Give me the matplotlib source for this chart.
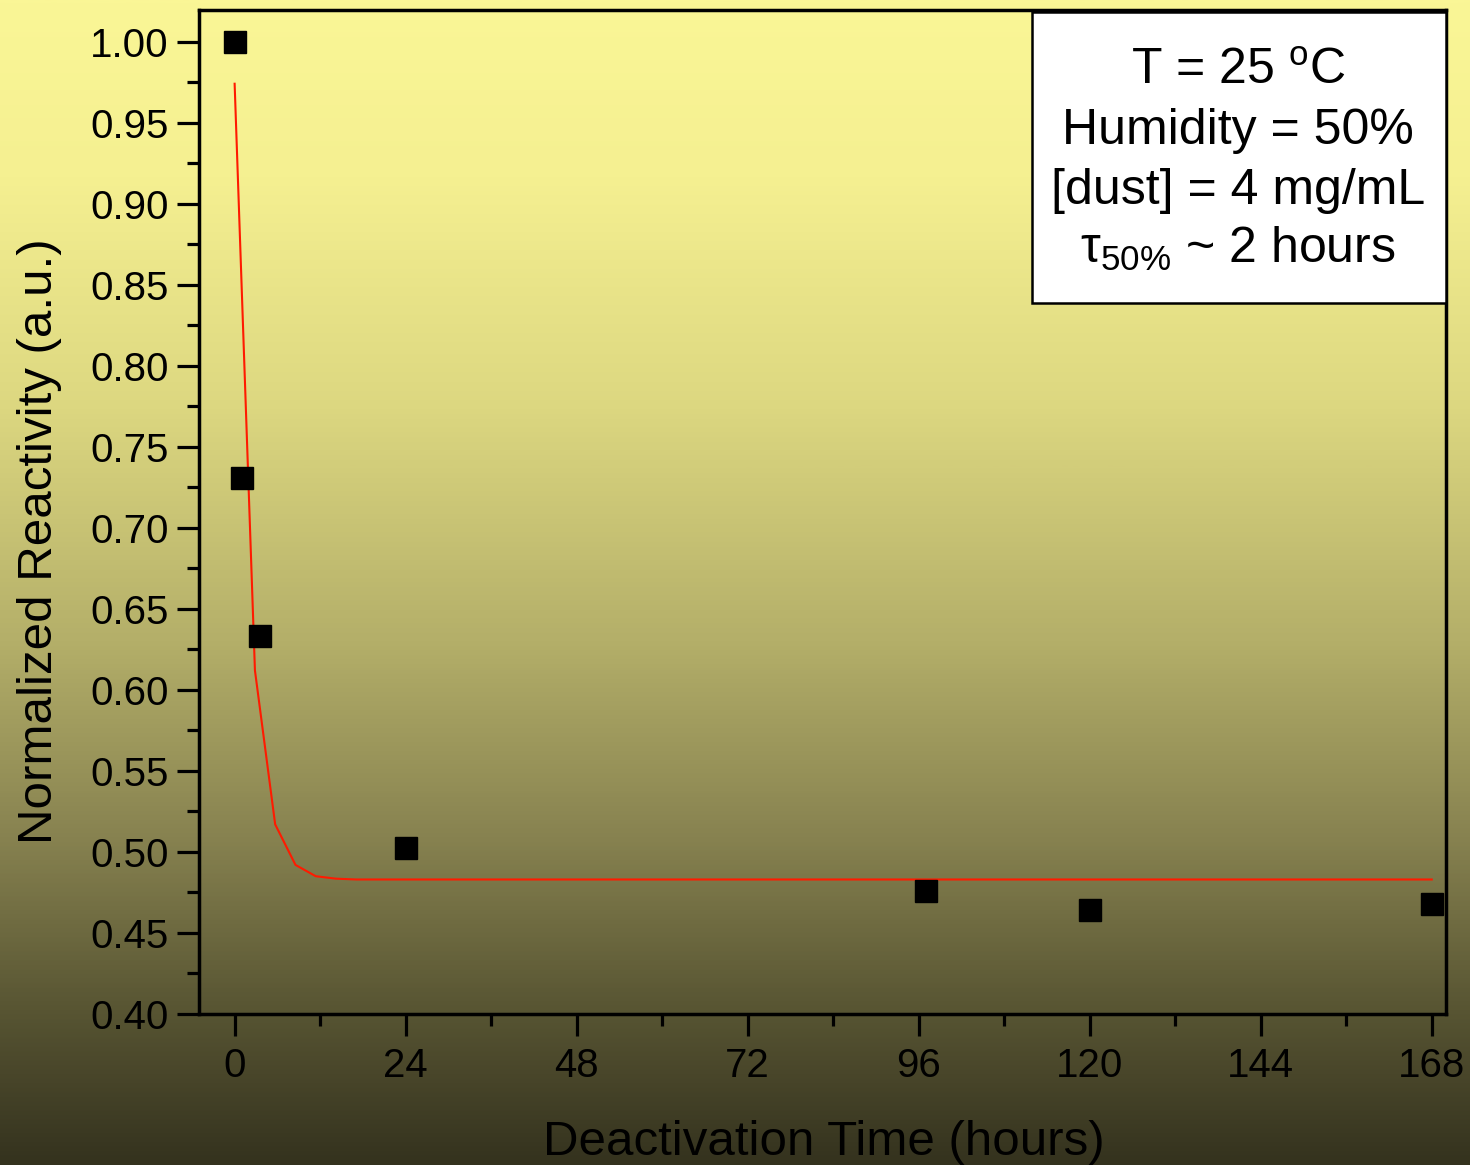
import numpy as np
import matplotlib
matplotlib.use("Agg")
import matplotlib.pyplot as plt
from matplotlib import font_manager
from matplotlib.patches import Rectangle
from matplotlib.colors import LinearSegmentedColormap
from matplotlib.ticker import MultipleLocator, FormatStrFormatter

# Measured reactivity after deactivation
time_h = [0, 1, 3.5, 24, 97, 120, 168]
reactivity = [1.000, 0.731, 0.633, 0.5025, 0.476, 0.464, 0.468]

# Exponential-decay fit curve (sampled)
fit_time_h = [0, 2.85, 5.69, 8.54, 11.39, 14.24, 17.08, 168]
fit_reactivity = [0.974, 0.612, 0.517, 0.492, 0.485, 0.4835, 0.483, 0.483]

x_ticks = [0, 24, 48, 72, 96, 120, 144, 168]
y_ticks = [0.40, 0.45, 0.50, 0.55, 0.60, 0.65, 0.70, 0.75, 0.80, 0.85, 0.90, 0.95, 1.00]

conditions = [r"T = 25 $\mathregular{^o}$C",
              "Humidity = 50%",
              "[dust] = 4 mg/mL",
              r"$\mathregular{τ_{50\%}}$ ~ 2 hours"]

W, H = 1470, 1165
DPI = 100
fig = plt.figure(figsize=(W / DPI, H / DPI), dpi=DPI)

regular = ["Liberation Sans", "DejaVu Sans"]
installed = {f.name for f in font_manager.fontManager.ttflist}
if "Liberation Sans Narrow" in installed:
    label_family = ["Liberation Sans Narrow", "Liberation Sans", "DejaVu Sans"]
    label_size, box_size = 41, 41
else:
    label_family = regular
    label_size, box_size = 35.5, 36

# yellow-to-olive vertical background
bg = fig.add_axes([0, 0, 1, 1], zorder=-10)
stops = [(0.00, (250, 246, 150)),
         (0.15, (245, 240, 145)),
         (0.35, (220, 215, 128)),
         (0.55, (180, 175, 105)),
         (0.72, (135, 130, 80)),
         (0.86, (90, 87, 52)),
         (1.00, (52, 50, 30))]
cmap = LinearSegmentedColormap.from_list(
    "bg", [(p, tuple(c / 255 for c in rgb)) for p, rgb in stops])
grad = np.linspace(0, 1, 512).reshape(-1, 1)
bg.imshow(grad, aspect="auto", cmap=cmap, extent=[0, 1, 1, 0])
bg.set_xlim(0, 1)
bg.set_ylim(1, 0)
bg.axis("off")

ax = fig.add_axes([199 / W, 1 - 1014 / H, (1446 - 199) / W, (1014 - 10) / H])
ax.set_facecolor("none")

ax.plot(fit_time_h, fit_reactivity, color="#ff1a00", lw=1.5, zorder=3)
ax.plot(time_h, reactivity, ls="none", marker="s", ms=16,
        mfc="black", mec="black", zorder=4)

ax.set_xlim(-5, 170)
ax.set_ylim(0.40, 1.0195)
ax.set_xticks(x_ticks)
ax.set_yticks(y_ticks)
ax.xaxis.set_minor_locator(MultipleLocator(12))
ax.yaxis.set_minor_locator(MultipleLocator(0.025))
ax.yaxis.set_major_formatter(FormatStrFormatter("%.2f"))

for s in ax.spines.values():
    s.set_linewidth(2.5)
    s.set_color("black")

ax.tick_params(which="both", direction="out", top=False, right=False,
               width=2.3, color="black")
ax.tick_params(which="major", length=16)
ax.tick_params(which="minor", length=8.5)
ax.tick_params(axis="y", which="major", pad=6)
ax.tick_params(axis="x", which="major", pad=8)
for lab in ax.get_xticklabels() + ax.get_yticklabels():
    lab.set_family(regular)
    lab.set_fontsize(29)
    lab.set_color("black")

fig.text(824 / W, 1 - 1155 / H, "Deactivation Time (hours)",
         family=label_family, fontsize=label_size, ha="center", va="baseline")
fig.text(40 / W, 1 - 541 / H, "Normalized Reactivity (a.u.)",
         family=label_family, fontsize=label_size, ha="center", va="center",
         rotation=90)

# conditions box
x0 = (1032 - 199) / 1247
y_top = (1014 - 12) / 1004
y_bot = (1014 - 303) / 1004
ax.add_patch(Rectangle((x0, y_bot), 1 - x0, y_top - y_bot,
                       transform=ax.transAxes, facecolor="white",
                       edgecolor="black", lw=1.8, zorder=5, clip_on=False))
baselines_px = [84, 144, 204, 263]
for txt, b in zip(conditions, baselines_px):
    fig.text(1238 / W, 1 - b / H, txt, family=label_family, fontsize=box_size,
             ha="center", va="baseline", zorder=6)

fig.savefig("out.png", dpi=DPI)
